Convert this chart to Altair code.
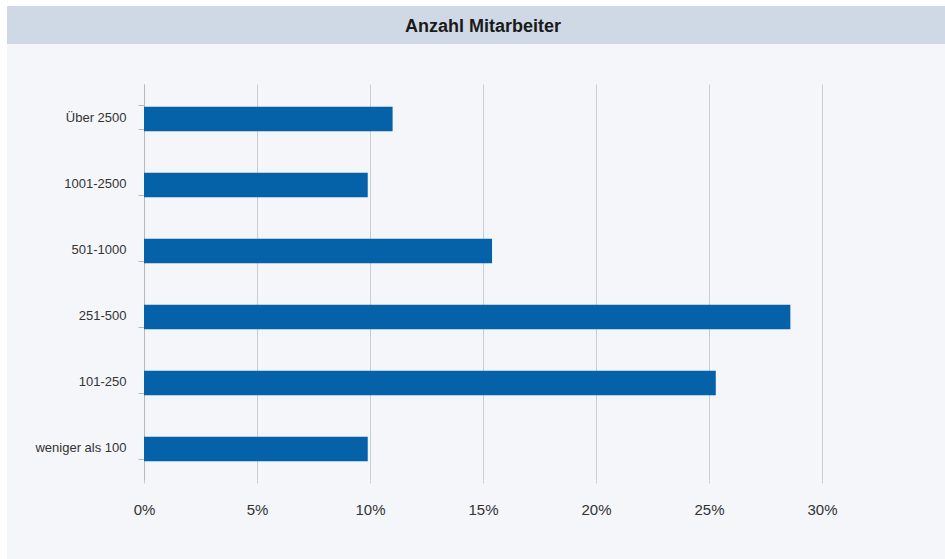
import altair as alt
import pandas as pd

# ---- data ----
categories = ["Über 2500", "1001-2500", "501-1000", "251-500", "101-250", "weniger als 100"]
shares = [0.110, 0.099, 0.154, 0.286, 0.253, 0.099]
tick_values = [0.0, 0.05, 0.10, 0.15, 0.20, 0.25, 0.30]
title_text = "Anzahl Mitarbeiter"

df = pd.DataFrame({"category": categories, "share": shares})
one = pd.DataFrame({"k": [0]})

FONT = "Liberation Sans"
GRID = "#c9cdd7"
AXIS = "#b4b8c1"

bars = alt.Chart(df).mark_bar(color="#0562a8", yOffset=2).encode(
    x=alt.X(
        "share:Q",
        scale=alt.Scale(domain=[0, 0.35], nice=False, zero=True),
        axis=alt.Axis(
            values=tick_values,
            format=".0%",
            title=None,
            grid=True,
            gridColor=GRID,
            domain=False,
            ticks=True,
            tickSize=3,
            tickColor=GRID,
            labelFlush=False,
            labelFont=FONT,
            labelFontSize=15,
            labelColor="#333333",
            labelPadding=19,
        ),
    ),
    y=alt.Y(
        "category:N",
        sort=categories,
        scale=alt.Scale(paddingInner=0.63, paddingOuter=0.315),
        axis=alt.Axis(
            title=None,
            grid=False,
            tickBand="extent",
            tickSize=6,
            tickColor=AXIS,
            domainColor=AXIS,
            labelFont=FONT,
            labelFontSize=13,
            labelColor="#333333",
            labelPadding=12,
        ),
    ),
    tooltip=["category:N", alt.Tooltip("share:Q", format=".1%")],
)

# decorative frame: white outer strips and the header band
strip_left = alt.Chart(one).mark_rect(color="#ffffff").encode(
    x=alt.value(-144), x2=alt.value(-137), y=alt.value(-84), y2=alt.value(475)
)
strip_top = alt.Chart(one).mark_rect(color="#ffffff").encode(
    x=alt.value(-144), x2=alt.value(801), y=alt.value(-84), y2=alt.value(-78)
)
header = alt.Chart(one).mark_rect(color="#cfd9e5").encode(
    x=alt.value(-137), x2=alt.value(801), y=alt.value(-78), y2=alt.value(-40)
)
title = alt.Chart(one).mark_text(
    font=FONT, fontSize=18, fontWeight="bold", color="#1a1a1a",
    align="center", baseline="middle",
).encode(x=alt.value(339), y=alt.value(-57), text=alt.value(title_text))

chart = (
    alt.layer(strip_left, strip_top, header, title, bars)
    .properties(
        width=791,
        height=396,
        padding={"left": 144, "top": 84, "right": 10, "bottom": 79},
        autosize=alt.AutoSizeParams(type="none"),
    )
    .configure(background="#f4f6fa")
    .configure_view(strokeWidth=0)
)

chart.save("out.html", embed_options={"renderer": "svg", "actions": False})
